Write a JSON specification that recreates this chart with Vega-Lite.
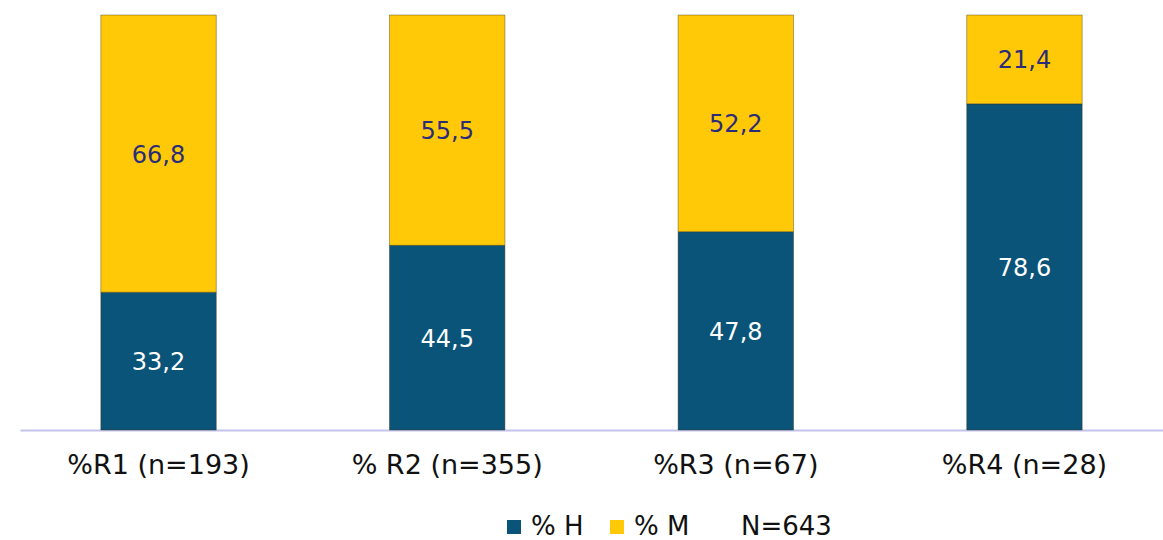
{
  "$schema": "https://vega.github.io/schema/vega-lite/v6.json",
  "width": 1143,
  "height": 415,
  "padding": {"left": 20, "top": 15, "right": 0, "bottom": 110},
  "autosize": {"type": "none"},
  "background": "#ffffff",
  "config": {
    "view": {"stroke": null},
    "font": "DejaVu Sans",
    "locale": {"number": {"decimal": ",", "thousands": ".", "grouping": [3], "currency": ["", ""]}}
  },
  "data": {
    "values": [
      {"cat": "%R1 (n=193)", "sex": "% H", "ord": 1, "value": 33.2},
      {"cat": "%R1 (n=193)", "sex": "% M", "ord": 2, "value": 66.8},
      {"cat": "% R2 (n=355)", "sex": "% H", "ord": 1, "value": 44.5},
      {"cat": "% R2 (n=355)", "sex": "% M", "ord": 2, "value": 55.5},
      {"cat": "%R3 (n=67)", "sex": "% H", "ord": 1, "value": 47.8},
      {"cat": "%R3 (n=67)", "sex": "% M", "ord": 2, "value": 52.2},
      {"cat": "%R4 (n=28)", "sex": "% H", "ord": 1, "value": 78.6},
      {"cat": "%R4 (n=28)", "sex": "% M", "ord": 2, "value": 21.4}
    ]
  },
  "transform": [
    {"stack": "value", "groupby": ["cat"], "sort": [{"field": "ord"}], "as": ["v0", "v1"]},
    {"calculate": "(datum.v0 + datum.v1) / 2", "as": "mid"}
  ],
  "encoding": {
    "x": {
      "field": "cat", "type": "nominal", "sort": null,
      "scale": {"paddingInner": 0.6, "paddingOuter": 0.28},
      "axis": {
        "title": null, "labelAngle": 0, "labelFontSize": 27, "labelColor": "#111111",
        "labelPadding": 22, "ticks": false, "domainColor": "#C4C4EE", "domainWidth": 2,
        "labelFont": "DejaVu Sans", "labelLimit": 0
      }
    }
  },
  "layer": [
    {
      "mark": {"type": "bar", "stroke": "#3a3010", "strokeWidth": 0.8, "strokeOpacity": 0.5},
      "encoding": {
        "y": {"field": "v0", "type": "quantitative", "scale": {"domain": [0, 100]}, "axis": null},
        "y2": {"field": "v1"},
        "color": {
          "field": "sex", "type": "nominal",
          "scale": {"domain": ["% H", "% M"], "range": ["#0A5479", "#FFC907"]},
          "legend": {
            "title": "N=643", "titleOrient": "right", "titleFontSize": 26, "titleFontWeight": "normal",
            "titleColor": "#111111", "titlePadding": 52, "titleBaseline": "middle",
            "orient": "none", "legendX": 481, "legendY": 499, "direction": "horizontal",
            "symbolType": "square", "symbolSize": 196, "symbolStrokeWidth": 0,
            "labelFontSize": 26, "labelColor": "#111111", "columnPadding": 20, "labelOffset": 4
          }
        }
      }
    },
    {
      "mark": {"type": "text", "fontSize": 24, "font": "DejaVu Sans", "baseline": "middle", "dy": 2},
      "encoding": {
        "y": {"field": "mid", "type": "quantitative", "scale": {"domain": [0, 100]}},
        "text": {"field": "value", "type": "quantitative", "format": ".1f"},
        "fill": {
          "condition": {"test": "datum.sex === '% H'", "value": "#FFFFFF"},
          "value": "#2B2D7A"
        }
      }
    }
  ]
}
